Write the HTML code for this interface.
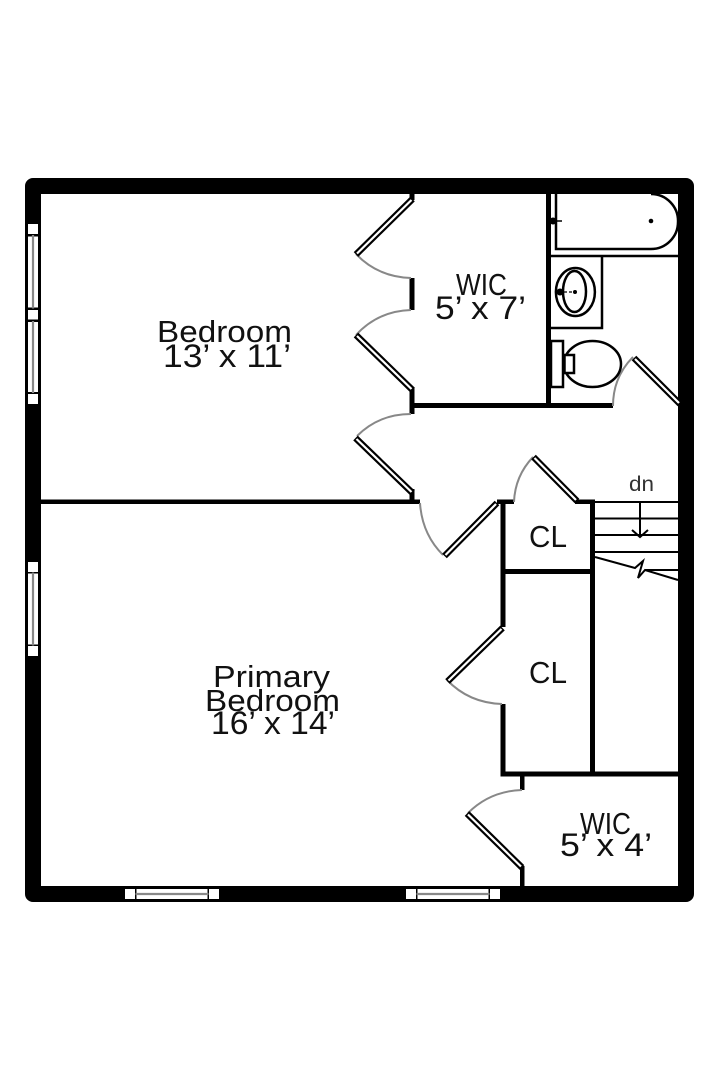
<!DOCTYPE html>
<html><head><meta charset="utf-8"><style>
html,body{margin:0;padding:0;background:#fff;width:720px;height:1080px;overflow:hidden}
svg{display:block}
text{font-family:"Liberation Sans",sans-serif;fill:#111;font-size:31px}
</style></head><body>
<svg width="720" height="1080" viewBox="0 0 720 1080" xmlns="http://www.w3.org/2000/svg">
<rect width="720" height="1080" fill="#fff"/>
<!-- outer wall -->
<path fill-rule="evenodd" fill="#000" d="M33 178H686a8 8 0 0 1 8 8V894a8 8 0 0 1 -8 8H33a8 8 0 0 1 -8 -8V186a8 8 0 0 1 8 -8ZM41 194V886H678V194Z"/>
<!-- windows -->
<g fill="#fff">
<rect x="28" y="224" width="10" height="10"/><rect x="28" y="310" width="10" height="9.500"/><rect x="28" y="394" width="10" height="10"/>
<rect x="28" y="236.500" width="10" height="71"/><rect x="28" y="322" width="10" height="70"/>
<rect x="28" y="562" width="10" height="10"/><rect x="28" y="646" width="10" height="10"/><rect x="28" y="573.500" width="10" height="71"/>
<rect x="125" y="889" width="10" height="10"/><rect x="209" y="889" width="10" height="10"/><rect x="136.500" y="889" width="71" height="10"/>
<rect x="406" y="889" width="10" height="10"/><rect x="490" y="889" width="10" height="10"/><rect x="417.500" y="889" width="71" height="10"/>
</g>
<g stroke="#888" stroke-width="2.200" fill="none">
<path d="M33 235V308.500M33 321V393M33 572.500V645.500M135.500 894H208.500M416.500 894H489.500"/>
</g>
<!-- interior walls -->
<g fill="#000">
<rect x="409.500" y="194" width="5" height="6"/>
<rect x="409.500" y="278" width="5" height="32"/>
<rect x="409.500" y="387" width="5" height="27"/>
<rect x="410" y="403" width="203" height="5"/>
<rect x="546" y="194" width="5" height="212"/>
<rect x="409.500" y="489" width="5" height="12"/>
<rect x="41" y="499.500" width="379" height="4.500"/>
<rect x="497" y="499.500" width="17" height="4.500"/>
<rect x="575" y="499.500" width="20" height="4.500"/>
<rect x="500.500" y="500" width="5" height="127"/>
<rect x="590" y="500" width="5" height="276"/>
<rect x="501" y="569" width="94" height="5"/>
<rect x="500.500" y="704" width="5" height="72"/>
<rect x="500.500" y="771.500" width="178" height="5"/>
<rect x="520" y="775" width="4.500" height="15"/>
<rect x="520" y="866" width="4.500" height="21"/>
</g>
<!-- door arcs -->
<g fill="none" stroke="#888" stroke-width="2">
<path d="M356 254Q378 277 411 278"/>
<path d="M356 335Q378 311 411 310"/>
<path d="M357 436Q379 414 411 414"/>
<path d="M420 503Q422 534 443 555"/>
<path d="M514 502Q515 476 533 457"/>
<path d="M447 680Q469 703 502 704"/>
<path d="M468 813Q490 791 522 790"/>
<path d="M613 406Q613 377 633 357"/>
</g>
<!-- door leaves -->
<g fill="none" stroke="#000" stroke-width="6.500">
<path d="M412.500 199L356 254.500M412.500 390L356 335M355.500 438L412.500 493M497 503L444.500 556M533.500 457L577 501M502.500 628L447.500 681.500M467 813.500L522 867.500M634 358L680 404"/>
</g>
<g fill="none" stroke="#fff" stroke-width="2.200">
<path d="M411.500 200L357 253.500M411.500 389L357 336M356.500 439L411.500 492M496 504L445.500 555M534.500 458L576 500M501.500 629L448.500 680.500M468 814.500L521 866.500M635 359L679 403"/>
</g>
<!-- bath -->
<g fill="none" stroke="#000" stroke-width="2.500">
<path d="M556 194V249H651A27 27 0 0 0 678 222A27 27 0 0 0 651 194"/>
<path d="M551 256H678M602 256V328H551"/>
<ellipse cx="575.400" cy="292" rx="19.500" ry="24"/>
<ellipse cx="574.500" cy="291.500" rx="11.500" ry="20.500"/>
<rect x="551" y="341" width="12" height="46"/>
<ellipse cx="592.500" cy="364" rx="28.500" ry="23"/>
<rect x="564.500" y="355" width="9.500" height="18" fill="#fff"/>
<path d="M550 221H562" stroke-width="1.500"/>
<path d="M559 292H572" stroke-width="1.200" stroke-dasharray="3 2"/>
</g>
<circle cx="651" cy="221" r="2.300"/>
<circle cx="575" cy="292" r="2"/>
<circle cx="553" cy="221" r="3.500"/>
<circle cx="560" cy="292" r="3.500"/>
<!-- stairs -->
<g fill="none" stroke="#000" stroke-width="2">
<path d="M595 502H678M595 518.500H678M595 535H678M595 552H678M645 570H678"/>
<path d="M595 557L635 568L643 561L638 578L645 570L678 580"/>
<path d="M640 502V537M632 530L640 537L648 530"/>
</g>
<!-- labels -->
<text x="157" y="342" textLength="135" lengthAdjust="spacingAndGlyphs">Bedroom</text>
<text x="163" y="367" textLength="128" lengthAdjust="spacingAndGlyphs" style="font-size:32px">13’ x 11’</text>
<text x="213" y="687" textLength="117" lengthAdjust="spacingAndGlyphs">Primary</text>
<text x="205" y="711" textLength="135" lengthAdjust="spacingAndGlyphs">Bedroom</text>
<text x="211" y="734" textLength="124" lengthAdjust="spacingAndGlyphs" style="font-size:32px">16’ x 14’</text>
<text x="456" y="295" textLength="51" lengthAdjust="spacingAndGlyphs">WIC</text>
<text x="435" y="319" textLength="91" lengthAdjust="spacingAndGlyphs" style="font-size:32px">5’ x 7’</text>
<text x="580" y="834" textLength="51" lengthAdjust="spacingAndGlyphs">WIC</text>
<text x="560" y="856" textLength="92" lengthAdjust="spacingAndGlyphs" style="font-size:32px">5’ x 4’</text>
<text x="529" y="547" textLength="38" lengthAdjust="spacingAndGlyphs">CL</text>
<text x="529" y="683" textLength="38" lengthAdjust="spacingAndGlyphs">CL</text>
<text x="629" y="491" textLength="25" lengthAdjust="spacingAndGlyphs" style="font-size:21px;fill:#333">dn</text>
</svg>
</body></html>
